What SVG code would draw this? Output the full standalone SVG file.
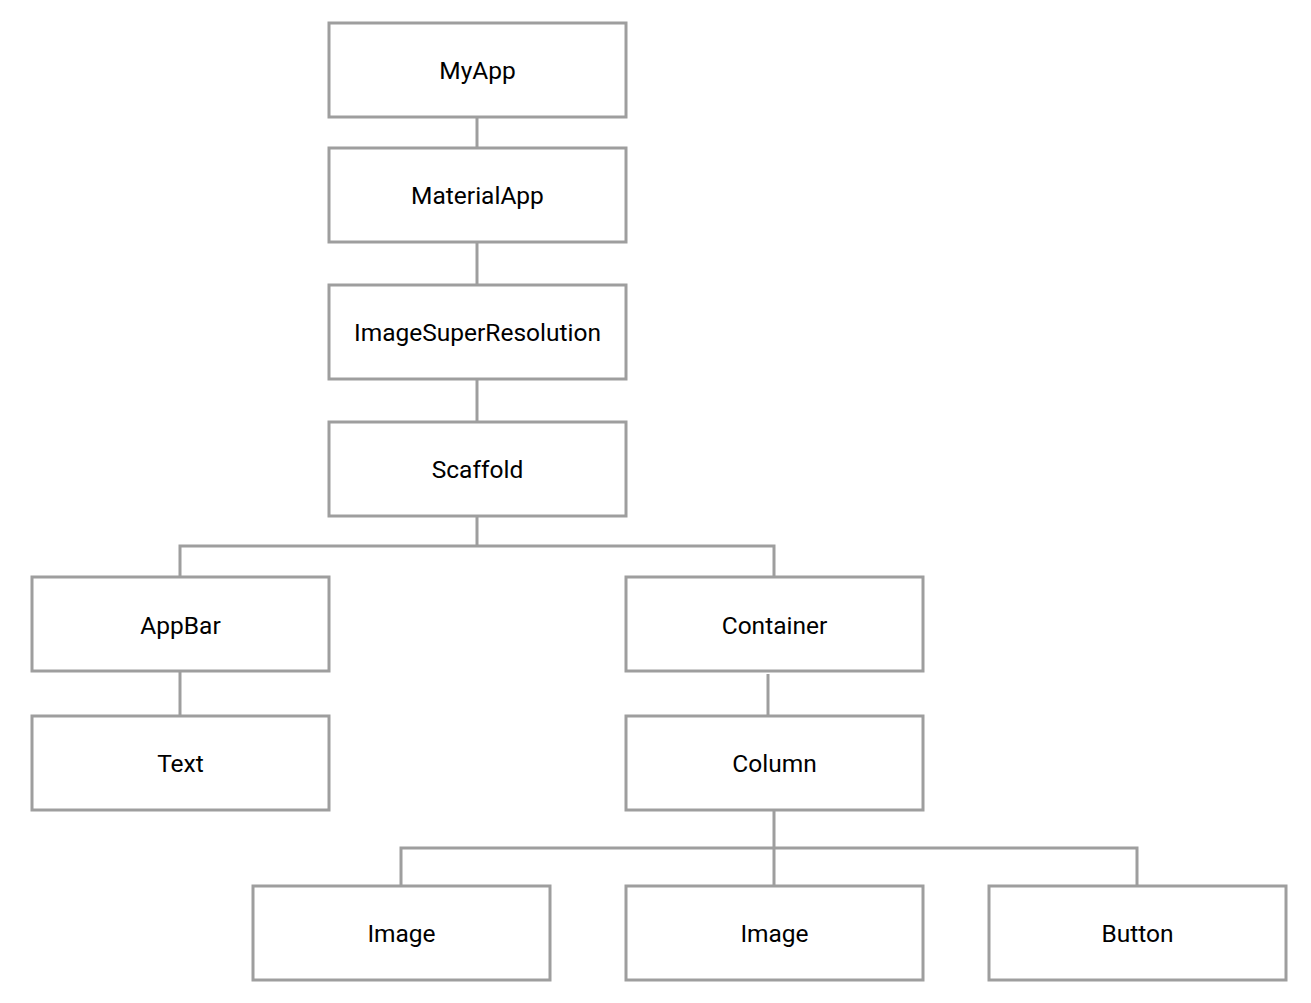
<svg xmlns="http://www.w3.org/2000/svg" width="1311" height="1003" viewBox="0 0 1311 1003">
<style>
.box{fill:#fff;stroke:#9e9e9e;stroke-width:3}
.lbl{font-family:Roboto,"Liberation Sans",sans-serif;font-size:24.5px;fill:#000;text-anchor:middle}
.con{fill:none;stroke:#9e9e9e;stroke-width:3}
</style>
<rect width="1311" height="1003" fill="#fff"/>
<g id="connectors">
<path class="con" d="M477 117V148"/>
<path class="con" d="M477 242V285"/>
<path class="con" d="M477 376V422"/>
<path class="con" d="M477 516V546M180 577V546H774V577"/>
<path class="con" d="M180 671V716"/>
<path class="con" d="M768 674V716"/>
<path class="con" d="M774 810V886M401 886V848H1137V886"/>
</g>
<g id="myapp"><rect class="box" x="329" y="23" width="297" height="94"/><text class="lbl" x="477.5" y="79">MyApp</text></g>
<g id="materialapp"><rect class="box" x="329" y="148" width="297" height="94"/><text class="lbl" x="477.5" y="204">MaterialApp</text></g>
<g id="imagesuperresolution"><rect class="box" x="329" y="285" width="297" height="94"/><text class="lbl" x="477.5" y="341">ImageSuperResolution</text></g>
<g id="scaffold"><rect class="box" x="329" y="422" width="297" height="94"/><text class="lbl" x="477.5" y="478">Scaffold</text></g>
<g id="appbar"><rect class="box" x="32" y="577" width="297" height="94"/><text class="lbl" x="180.5" y="634">AppBar</text></g>
<g id="text"><rect class="box" x="32" y="716" width="297" height="94"/><text class="lbl" x="180.5" y="772">Text</text></g>
<g id="container"><rect class="box" x="626" y="577" width="297" height="94"/><text class="lbl" x="774.5" y="634">Container</text></g>
<g id="column"><rect class="box" x="626" y="716" width="297" height="94"/><text class="lbl" x="774.5" y="772">Column</text></g>
<g id="image1"><rect class="box" x="253" y="886" width="297" height="94"/><text class="lbl" x="401.5" y="942">Image</text></g>
<g id="image2"><rect class="box" x="626" y="886" width="297" height="94"/><text class="lbl" x="774.5" y="942">Image</text></g>
<g id="button"><rect class="box" x="989" y="886" width="297" height="94"/><text class="lbl" x="1137.5" y="942">Button</text></g>
</svg>
